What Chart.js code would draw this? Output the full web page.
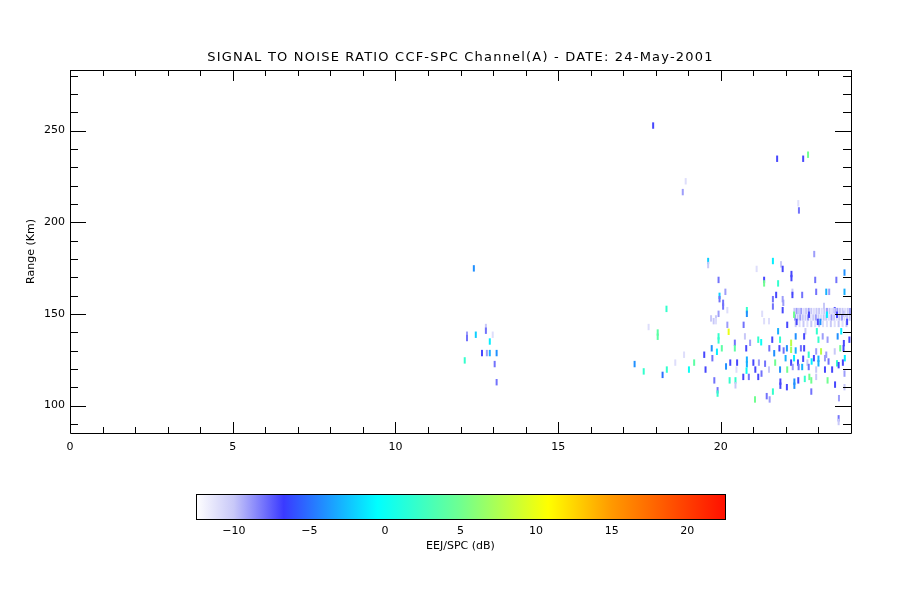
<!DOCTYPE html>
<html>
<head>
<meta charset="utf-8">
<title>SNR CCF-SPC</title>
<script src="https://cdn.jsdelivr.net/npm/chart.js@4.4.1/dist/chart.umd.min.js"></script>
<style>
body { margin: 0; background: #fff; }
#wrap { position: relative; width: 900px; height: 600px; background: #fff; }
#main { position: absolute; left: 0; top: 0; }
#bar { position: absolute; left: 0; top: 480px; }
</style>
</head>
<body>
<div id="wrap">
<canvas id="main" width="900" height="470"></canvas>
<canvas id="bar" width="900" height="110"></canvas>
</div>
<script>
// hour of day (UT), range gate (km), SNR (dB)
var hours = [
 12.41,12.78,12.78,12.20,12.20,12.47,12.99,12.90,12.66,12.81,12.90,13.11,12.13,13.05,13.11,
 17.92,17.78,18.06,18.06,18.33,17.35,17.63,18.21,18.34,18.92,18.83,18.87,18.60,19.18,19.02,
 21.73,22.53,22.68,22.38,22.40,22.87,19.61,19.61,21.60,21.85,21.90,21.10,23.80,22.17,22.17,
 19.93,21.33,21.33,21.76,22.90,23.55,20.14,22.20,22.93,23.24,23.33,23.80,21.70,22.20,22.50,
 19.96,19.96,21.60,21.90,20.07,20.07,21.92,23.17,21.60,20.80,20.80,21.90,20.20,23.50,19.93,
 21.27,23.80,
 22.26,22.33,22.40,22.47,22.55,22.62,22.70,22.78,22.86,22.94,23.02,23.10,23.18,23.26,23.34,
 23.42,23.50,23.58,23.66,23.74,23.82,23.90,23.97,
 22.28,22.36,22.44,22.52,22.60,22.68,22.76,22.84,22.92,23.00,23.08,23.16,23.24,23.32,23.40,
 23.48,23.56,23.64,23.72,23.80,23.88,23.96,
 22.30,22.42,22.54,22.66,22.78,22.90,23.02,23.14,23.26,23.38,23.50,23.62,23.74,23.86,
 22.71,22.98,23.06,23.26,22.25,22.33,23.57,23.88,
 19.70,19.78,19.85,19.85,20.70,20.20,21.33,21.48,22.04,20.24,21.76,22.60,22.95,23.70,19.93,
 19.93,20.74,21.58,21.15,21.24,21.82,22.30,22.56,23.00,23.13,23.28,23.59,23.78,23.95,22.16,
 22.16,20.43,20.90,19.72,20.03,20.43,20.78,21.49,21.64,21.80,21.93,22.03,22.30,22.46,22.56,
 22.70,22.93,23.08,23.24,23.50,23.67,23.77,23.81,19.49,19.74,19.88,20.29,20.50,20.80,20.80,
 21.00,21.17,21.36,21.67,21.99,22.16,22.25,22.37,22.53,22.66,22.79,22.86,23.00,23.00,23.20,
 23.31,23.57,23.75,19.53,20.16,20.48,20.79,21.06,21.25,21.48,21.82,22.04,22.21,22.39,22.50,
 22.70,22.93,23.20,23.42,23.62,23.80,19.80,20.27,20.45,20.69,20.86,21.15,21.83,21.83,22.26,
 22.26,22.38,22.58,22.72,22.78,22.93,23.28,23.51,23.80,19.90,19.90,20.45,22.03,21.60,21.05,
 21.41,21.50,22.78,23.63,23.62,23.62
];
var rangeKm = [
 174.8,142.8,140.8,138.6,136.8,138.6,138.6,134.9,128.6,128.6,128.6,128.6,124.6,122.6,112.7,
 252.7,142.8,139.8,137.5,152.7,122.6,118.6,116.7,119.6,222.3,216.4,127.7,123.4,123.4,119.6,
 234.6,234.6,236.8,210.3,206.4,182.6,178.8,176.6,178.8,177.0,174.5,174.5,172.5,171.7,169.5,
 168.5,168.5,166.6,166.6,168.5,168.5,162.0,162.0,162.0,162.0,162.0,162.0,160.3,160.3,160.3,
 159.8,158.0,158.0,158.0,156.0,154.0,156.0,154.3,154.0,152.0,150.0,152.0,152.0,152.0,150.0,
 150.0,150.0,
 151.5,151.5,151.5,151.5,151.5,151.5,151.5,151.5,151.5,151.5,151.5,151.5,151.5,151.5,151.5,
 151.5,151.5,151.5,151.5,151.5,151.5,151.5,151.5,
 148.0,148.0,148.0,148.0,148.0,148.0,148.0,148.0,148.0,148.0,148.0,148.0,148.0,148.0,148.0,
 148.0,148.0,148.0,148.0,148.0,148.0,148.0,
 144.5,144.5,144.5,144.5,144.5,144.5,144.5,144.5,144.5,144.5,144.5,144.5,144.5,144.5,
 149.5,145.6,145.6,149.5,149.5,145.6,149.5,145.6,
 147.5,146.0,147.5,146.0,144.0,144.0,146.0,146.0,144.0,140.2,140.5,140.5,140.5,140.5,137.7,
 135.5,137.7,135.9,135.9,134.5,135.9,137.7,137.7,135.9,137.7,135.9,137.7,134.0,135.9,134.2,
 130.4,134.2,134.2,131.2,131.2,131.2,131.2,131.2,128.5,131.2,130.0,131.2,130.0,131.2,131.2,
 127.7,129.5,129.5,127.7,129.5,131.2,131.2,125.8,127.7,125.8,129.3,123.4,123.4,125.0,122.5,
 123.4,123.4,122.8,123.4,125.8,123.4,125.8,123.4,125.5,123.4,124.0,125.8,125.5,123.0,125.8,
 124.0,123.0,123.4,119.6,121.3,119.6,119.0,119.6,117.4,119.6,119.6,119.6,121.0,121.0,121.0,
 121.0,119.6,119.6,119.6,122.0,117.4,113.7,113.7,113.7,115.6,115.6,115.6,113.0,110.8,113.0,
 110.8,113.7,114.5,115.6,113.7,115.6,113.7,111.4,110.0,108.3,106.5,111.0,110.0,107.6,103.3,
 105.1,103.3,107.6,104.0,93.0,91.0
];
var snrDb = [
 -4,-10,-8,-9,-8,-2,-11,-1,-7,-9,-3,-4,2,-8,-8,
 -7,-11,4,4,2,-4,2,-5,2,-11,-9,-11,-11,4,0,
 -7,-7,5,-11,-8,-9,-2,-10,-1,-10,-7,-11,-4,-7,-7,
 -8,-7,5,2,-8,-8,-9,-10,-8,-3,-9,-3,-7,-7,-8,
 -2,-8,-8,-9,-8,-8,-9,-10,-8,2,-4,-7,-11,-7,-9,
 -11,-8,
 -10,-9,-10,-9,-11,-10,-9,-10,-11,-10,-10,-11,-10,-9,-10,
 -11,-10,-9,-10,-10,-11,-10,-9,
 -9,-10,-9,-10,-10,-9,-11,-10,-9,-10,-11,-10,-10,-11,-9,
 -10,-11,-10,-9,-11,-10,-10,
 -10,-11,-10,-11,-10,-11,-10,-11,-11,-10,-11,-10,-11,-10,
 -7,-7,-4,-1,5,-7,-7,-7,
 -10,-10,-10,-11,-8,-9,-11,-11,-7,10,-3,-10,2,-1,2,
 2,-10,-7,2,0,2,-4,-7,2,-9,-9,-4,-7,-7,8,
 7,-8,-9,-4,4,4,-7,-8,-4,-7,-8,-4,-3,-8,-7,
 2,-9,8,-9,-10,5,-7,-1,-7,-8,-1,-7,-7,-3,-3,
 -7,-9,-8,5,-3,-7,-1,-7,-7,-10,-1,-7,-3,-3,-9,
 -8,2,-7,-7,-4,-11,0,-7,-8,-10,-4,5,-9,-8,-3,
 -8,-10,-7,-7,-7,-9,-8,2,2,-7,-8,-7,-7,-7,-4,
 -4,-7,2,5,5,-10,5,-7,-10,-8,2,-10,-7,2,5,
 -8,-9,-8,-9,-8,-10
];

var xTicks = [0, 5, 10, 15, 20];
var yTicks = [100, 150, 200, 250];
var cbTicks = [-10, -5, 0, 5, 10, 15, 20];

// colour table of the colour bar
var cbStopDb = [-12.5, -10, -6.7, -4, -0.5, 5, 10.8, 15, 22.5];
var cbStopColors = ['#ffffff', '#c8c8f8', '#3a3aff', '#2090ff', '#00ffff', '#70ff90', '#ffff00', '#ff9900', '#ff1000'];

var titleText = 'SIGNAL TO NOISE RATIO CCF-SPC Channel(A) - DATE: 24-May-2001';

function hexRgb(h) {
  return [parseInt(h.substr(1,2),16), parseInt(h.substr(3,2),16), parseInt(h.substr(5,2),16)];
}

function dbColor(v) {
  if (v <= cbStopDb[0]) return cbStopColors[0];
  for (var i = 1; i < cbStopDb.length; i++) {
    if (v <= cbStopDb[i]) {
      var f = (v - cbStopDb[i-1]) / (cbStopDb[i] - cbStopDb[i-1]);
      var a = hexRgb(cbStopColors[i-1]), b = hexRgb(cbStopColors[i]);
      return 'rgb(' + Math.round(a[0]+(b[0]-a[0])*f) + ',' + Math.round(a[1]+(b[1]-a[1])*f) + ',' + Math.round(a[2]+(b[2]-a[2])*f) + ')';
    }
  }
  return cbStopColors[cbStopColors.length-1];
}

function minus(v) { return v < 0 ? '\u2212' + (-v) : '' + v; }

var points = [];
for (var i = 0; i < hours.length; i++) {
  points.push({x: hours[i], y: rangeKm[i]});
}
var pointColors = snrDb.map(dbColor);

var tickFont = {family: 'DejaVu Sans', size: 11};

// IDL style box with inward ticks on all four sides, plus the wide title
var boxTicks = {
  id: 'boxTicks',
  afterDraw: function(chart) {
    var ctx = chart.ctx, a = chart.chartArea;
    var x = chart.scales.x, y = chart.scales.y;
    ctx.save();
    ctx.strokeStyle = '#000';
    ctx.lineWidth = 1;
    ctx.beginPath();
    ctx.rect(Math.round(a.left)+0.5, Math.round(a.top)+0.5, Math.round(a.right-a.left), Math.round(a.bottom-a.top));
    for (var h = 0; h <= 24; h++) {
      var px = Math.round(x.getPixelForValue(h)) + 0.5;
      var len = (h % 5 === 0) ? 11 : 6;
      ctx.moveTo(px, a.bottom); ctx.lineTo(px, a.bottom - len);
      ctx.moveTo(px, a.top); ctx.lineTo(px, a.top + len);
    }
    for (var k = 90; k <= 280; k += 10) {
      var py = Math.round(y.getPixelForValue(k)) + 0.5;
      var l2 = (k % 50 === 0) ? 16 : 8;
      ctx.moveTo(a.left, py); ctx.lineTo(a.left + l2, py);
      ctx.moveTo(a.right, py); ctx.lineTo(a.right - l2, py);
    }
    ctx.stroke();

    ctx.fillStyle = '#000';
    ctx.font = '13px "DejaVu Sans"';
    ctx.letterSpacing = '1.2px';
    ctx.textAlign = 'center';
    ctx.textBaseline = 'middle';
    ctx.fillText(titleText, (a.left + a.right) / 2, 58);
    ctx.restore();
  }
};

new Chart(document.getElementById('main'), {
  type: 'scatter',
  data: {
    datasets: [{
      data: points,
      pointStyle: 'line',
      rotation: 90,
      radius: 3.2,
      hoverRadius: 3.2,
      borderWidth: 2,
      hoverBorderWidth: 2,
      pointBorderColor: pointColors,
      pointBackgroundColor: pointColors
    }]
  },
  options: {
    responsive: false,
    animation: false,
    devicePixelRatio: 1,
    layout: {padding: {left: 0, right: 49, top: 70, bottom: 0}},
    plugins: {
      legend: {display: false},
      tooltip: {enabled: false},
      title: {display: false}
    },
    scales: {
      x: {
        type: 'linear', min: 0, max: 24,
        grid: {display: false, drawTicks: false},
        border: {display: false},
        ticks: {color: '#000', font: tickFont, padding: 8, maxRotation: 0, autoSkip: false},
        afterBuildTicks: function(s) { s.ticks = xTicks.map(function(v) { return {value: v}; }); },
        afterFit: function(s) { s.height = 37; }
      },
      y: {
        type: 'linear', min: 85, max: 283,
        grid: {display: false, drawTicks: false},
        border: {display: false},
        ticks: {color: '#000', font: tickFont, padding: 5, autoSkip: false},
        afterBuildTicks: function(s) { s.ticks = yTicks.map(function(v) { return {value: v}; }); },
        afterFit: function(s) { s.width = 70; },
        title: {display: true, text: 'Range (Km)', color: '#000', font: tickFont, padding: {top: 25, bottom: 0}}
      }
    }
  },
  plugins: [boxTicks]
});

// colour bar: gradient laid on the dB scale
var colorBar = {
  id: 'colorBar',
  beforeDatasetsDraw: function(chart) {
    var ctx = chart.ctx, a = chart.chartArea, x = chart.scales.x;
    var g = ctx.createLinearGradient(a.left, 0, a.right, 0);
    for (var i = 0; i < cbStopDb.length; i++) {
      var f = (x.getPixelForValue(cbStopDb[i]) - a.left) / (a.right - a.left);
      g.addColorStop(Math.min(1, Math.max(0, f)), cbStopColors[i]);
    }
    ctx.save();
    ctx.fillStyle = g;
    ctx.fillRect(a.left, a.top, a.right - a.left, a.bottom - a.top);
    ctx.strokeStyle = '#000';
    ctx.lineWidth = 1;
    ctx.strokeRect(Math.round(a.left)+0.5, Math.round(a.top)+0.5, Math.round(a.right-a.left), Math.round(a.bottom-a.top));
    ctx.restore();
  }
};

new Chart(document.getElementById('bar'), {
  type: 'scatter',
  data: {datasets: [{data: []}]},
  options: {
    responsive: false,
    animation: false,
    devicePixelRatio: 1,
    layout: {padding: {left: 196, right: 175, top: 14, bottom: 0}},
    plugins: {legend: {display: false}, tooltip: {enabled: false}},
    scales: {
      x: {
        type: 'linear', min: -12.5, max: 22.5,
        grid: {display: false, drawTicks: false},
        border: {display: false},
        ticks: {color: '#000', font: tickFont, padding: 6, maxRotation: 0, autoSkip: false,
                callback: function(v) { return minus(v); }},
        afterBuildTicks: function(s) { s.ticks = cbTicks.map(function(v) { return {value: v}; }); },
        afterFit: function(s) { s.height = 71; },
        title: {display: true, text: 'EEJ/SPC (dB)', color: '#000', font: tickFont, padding: {top: 0, bottom: 36.8}}
      },
      y: {display: false, min: 0, max: 1}
    }
  },
  plugins: [colorBar]
});
</script>
</body>
</html>
